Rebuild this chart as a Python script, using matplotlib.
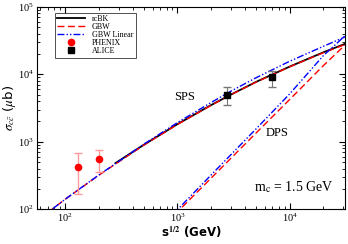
"""Charm cross section vs collision energy: SPS and DPS curves with data."""

import matplotlib
matplotlib.use("Agg")
import matplotlib.pyplot as plt
import numpy as np

plt.rcParams["font.family"] = ["Liberation Serif", "DejaVu Serif"]
plt.rcParams["mathtext.fontset"] = "stix"

# GBW single parton scattering (ub)
sps_energy = [60, 100, 200, 500, 1000, 2000, 3000, 5000, 10000, 20000, 31000]
sps_gbw = [73, 140, 319, 886, 1800, 3470, 4970, 7620, 12900, 20900, 27500]
sps_gbw_lin = [73, 140, 322, 915, 1920, 3820, 5620, 8850, 15600, 26000, 35750]

# rcBK single parton scattering (ub)
rcbk_energy = [280, 500, 1000, 2000, 3000, 5000, 10000, 20000, 31000]
rcbk_sps = [480, 895, 1820, 3500, 5000, 7680, 13000, 21200, 28200]

# double parton scattering (ub)
dps_energy = [700, 1000, 2000, 5000, 10000, 20000, 31000]
dps_gbw = [50, 91, 289, 1337, 4230, 13500, 27000]
dps_gbw_lin = [53, 98, 322, 1540, 5120, 19000, 37000]

# measurements
phenix_energy = [130, 200]
phenix_sigma = [425, 560]
phenix_lo = [167, 355]
phenix_hi = [690, 760]

alice_energy = [2760, 7000]
alice_sigma = [4900, 9100]
alice_lo = [3450, 6400]
alice_hi = [6400, 11000]

fig = plt.figure(figsize=(3.48, 2.44), dpi=100)
ax = fig.add_axes([0.106, 0.143, 0.885, 0.829])

dash = (0, (5, 2.5))
dashdot = (0, (5, 1.5, 1, 1.5, 1, 1.5))

ax.plot(rcbk_energy, rcbk_sps, color="black", lw=1.3, label="rcBK")
ax.plot(sps_energy, sps_gbw, color="red", lw=1.0, ls=dash, label="GBW")
ax.plot(sps_energy, sps_gbw_lin, color="blue", lw=1.0, ls=dashdot, label="GBW Linear")
ax.plot(dps_energy, dps_gbw, color="red", lw=1.0, ls=dash)
ax.plot(dps_energy, dps_gbw_lin, color="blue", lw=1.0, ls=dashdot)

ph_err = [np.array(phenix_sigma) - np.array(phenix_lo),
          np.array(phenix_hi) - np.array(phenix_sigma)]
ax.errorbar(phenix_energy, phenix_sigma, yerr=ph_err, fmt="none", ecolor="#ff9a9a",
            elinewidth=1.0, capsize=3)
ax.plot(phenix_energy, phenix_sigma, "o", color="red", ms=4.5, label="PHENIX")

al_err = [np.array(alice_sigma) - np.array(alice_lo),
          np.array(alice_hi) - np.array(alice_sigma)]
ax.errorbar(alice_energy, alice_sigma, yerr=al_err, fmt="none", ecolor="#777777",
            elinewidth=0.8, capsize=3)
ax.plot(alice_energy, alice_sigma, "s", color="black", ms=4.5, label="ALICE")

ax.set_xscale("log")
ax.set_yscale("log")
ax.set_xlim(56, 31000)
ax.set_ylim(100, 1e5)

ax.tick_params(which="both", direction="in", top=True, right=True, labelsize=7.5, pad=2)
ax.tick_params(which="major", length=4)
ax.tick_params(which="minor", length=2)
for s in ax.spines.values():
    s.set_linewidth(0.8)

ax.set_xlabel(r"s$^{\mathbf{1/2}}$ (GeV)", fontsize=8.5, family="DejaVu Sans",
              fontweight="bold", labelpad=0)
ax.set_ylabel(r"$\sigma_{c\bar{c}}$ ($\mu$b)", fontsize=9.5, family="DejaVu Sans",
              labelpad=0)

ax.text(1150, 4550, "SPS", fontsize=9, ha="center", va="center")
ax.text(7650, 1360, "DPS", fontsize=9, ha="center", va="center")
ax.text(10800, 215, r"m$_\mathrm{c}$ = 1.5 GeV", fontsize=10, ha="center", va="center")

leg = ax.legend(loc="upper left", bbox_to_anchor=(0.045, 0.99), fontsize=5.8,
                frameon=True, fancybox=False, edgecolor="black", handlelength=3.4,
                labelspacing=0.0, borderpad=0.3, handletextpad=0.9)
leg.get_frame().set_linewidth(0.6)

fig.savefig("out.png", dpi=100)
